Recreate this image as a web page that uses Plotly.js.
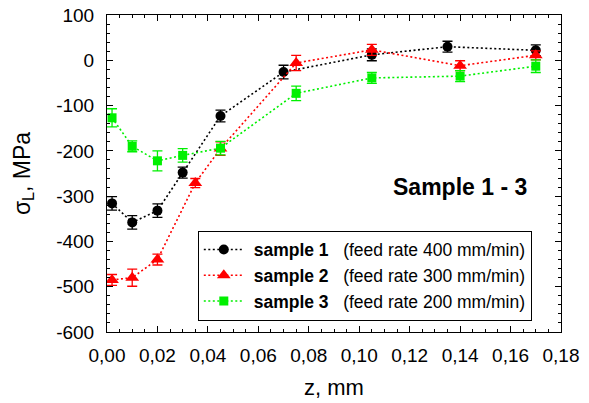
<!DOCTYPE html>
<html>
<head>
<meta charset="utf-8">
<script src="https://cdn.plot.ly/plotly-3.0.1.min.js"></script>
<style>html,body{margin:0;padding:0;background:#fff;}#chart{width:589px;height:403px;}</style>
</head>
<body>
<div id="chart"></div>
<script>
// Sample 1 (feed rate 400 mm/min)
var z1 = [0.002, 0.01, 0.02, 0.03, 0.045, 0.07, 0.105, 0.135, 0.17];
var s1 = [-316, -358, -332, -248, -123, -26, 12, 30, 22];
var e1 = [15, 15, 15, 12, 13, 15, 13, 12, 12];
// Sample 2 (feed rate 300 mm/min)
var z2 = [0.002, 0.01, 0.02, 0.035, 0.045, 0.075, 0.105, 0.14, 0.17];
var s2 = [-485, -480, -440, -271, -195, -6, 23, -12, 11];
var e2 = [12, 19, 12, 10, 15, 17, 12, 11, 10];
// Sample 3 (feed rate 200 mm/min)
var z3 = [0.002, 0.01, 0.02, 0.03, 0.045, 0.075, 0.105, 0.14, 0.17];
var s3 = [-127, -190, -222, -210, -194, -73, -39, -35, -13];
var e3 = [20, 12, 22, 15, 15, 16, 12, 12, 14];

var names = ['\u00a0<b>sample 1</b>\u00a0\u00a0\u00a0(feed rate 400 mm/min)',
             '\u00a0<b>sample 2</b>\u00a0\u00a0\u00a0(feed rate 300 mm/min)',
             '\u00a0<b>sample 3</b>\u00a0\u00a0\u00a0(feed rate 200 mm/min)'];

var xTickVals = [0, 0.02, 0.04, 0.06, 0.08, 0.10, 0.12, 0.14, 0.16, 0.18];
var xTickText = ['0,00','0,02','0,04','0,06','0,08','0,10','0,12','0,14','0,16','0,18'];
var yTickVals = [100, 0, -100, -200, -300, -400, -500, -600];
var yTickText = ['100','0','-100','-200','-300','-400','-500','-600'];

function tr(x, y, e, name, color, symbol, size) {
  return {
    x: x, y: y, name: name, type: 'scatter', mode: 'lines+markers',
    line: {color: color, width: 1.6, dash: '2px,2.5px'},
    marker: {color: color, symbol: symbol, size: size},
    error_y: {type: 'data', array: e, visible: true, color: color, thickness: 1.3, width: 5},
    hoverinfo: 'skip'
  };
}

var data = [
  tr(z1, s1, e1, names[0], '#000000', 'circle', 10),
  tr(z2, s2, e2, names[1], '#ff0000', 'triangle-up', 12),
  tr(z3, s3, e3, names[2], '#00f000', 'square', 9)
];

var font = 'Liberation Sans, Arial, Helvetica, sans-serif';
var layout = {
  width: 589, height: 403,
  margin: {l: 107, r: 28, t: 15, b: 71},
  paper_bgcolor: '#fff', plot_bgcolor: '#fff',
  font: {family: font, size: 19, color: '#000'},
  showlegend: true,
  legend: {
    x: 0.2, y: 0.32, xanchor: 'left', yanchor: 'top',
    bgcolor: '#fff', bordercolor: '#000', borderwidth: 1,
    font: {family: font, size: 17.5, color: '#000'},
    itemwidth: 40, tracegroupgap: 0
  },
  xaxis: {
    range: [0, 0.18], tickmode: 'array', tickvals: xTickVals, ticktext: xTickText,
    ticks: 'inside', ticklen: 6, tickwidth: 1, tickcolor: '#000',
    minor: {tickmode: 'linear', tick0: 0, dtick: 0.005, ticks: 'inside', ticklen: 3, tickcolor: '#000', showgrid: false},
    showline: true, linecolor: '#000', linewidth: 1, mirror: 'allticks',
    showgrid: false, zeroline: false, ticklabelstandoff: 6,
    tickfont: {family: font, size: 19},
    title: {text: 'z, mm', font: {family: font, size: 22}, standoff: 14}
  },
  yaxis: {
    range: [-600, 100], tickmode: 'array', tickvals: yTickVals, ticktext: yTickText,
    ticks: 'inside', ticklen: 6, tickwidth: 1, tickcolor: '#000',
    minor: {tickmode: 'linear', tick0: 0, dtick: 20, ticks: 'inside', ticklen: 3, tickcolor: '#000', showgrid: false},
    showline: true, linecolor: '#000', linewidth: 1, mirror: 'allticks',
    showgrid: false, zeroline: false, ticklabelstandoff: 8,
    tickfont: {family: font, size: 19},
    title: {text: '\u03c3<sub>L</sub>, MPa', font: {family: font, size: 23}, standoff: 19}
  },
  annotations: [{
    xref: 'paper', yref: 'paper', x: 0.7775, y: 0.457, xanchor: 'center', yanchor: 'middle',
    text: '<b>Sample 1 - 3</b>', showarrow: false, font: {family: font, size: 23, color: '#000'}
  }]
};

Plotly.newPlot('chart', data, layout, {staticPlot: true, displayModeBar: false});
</script>
</body>
</html>
